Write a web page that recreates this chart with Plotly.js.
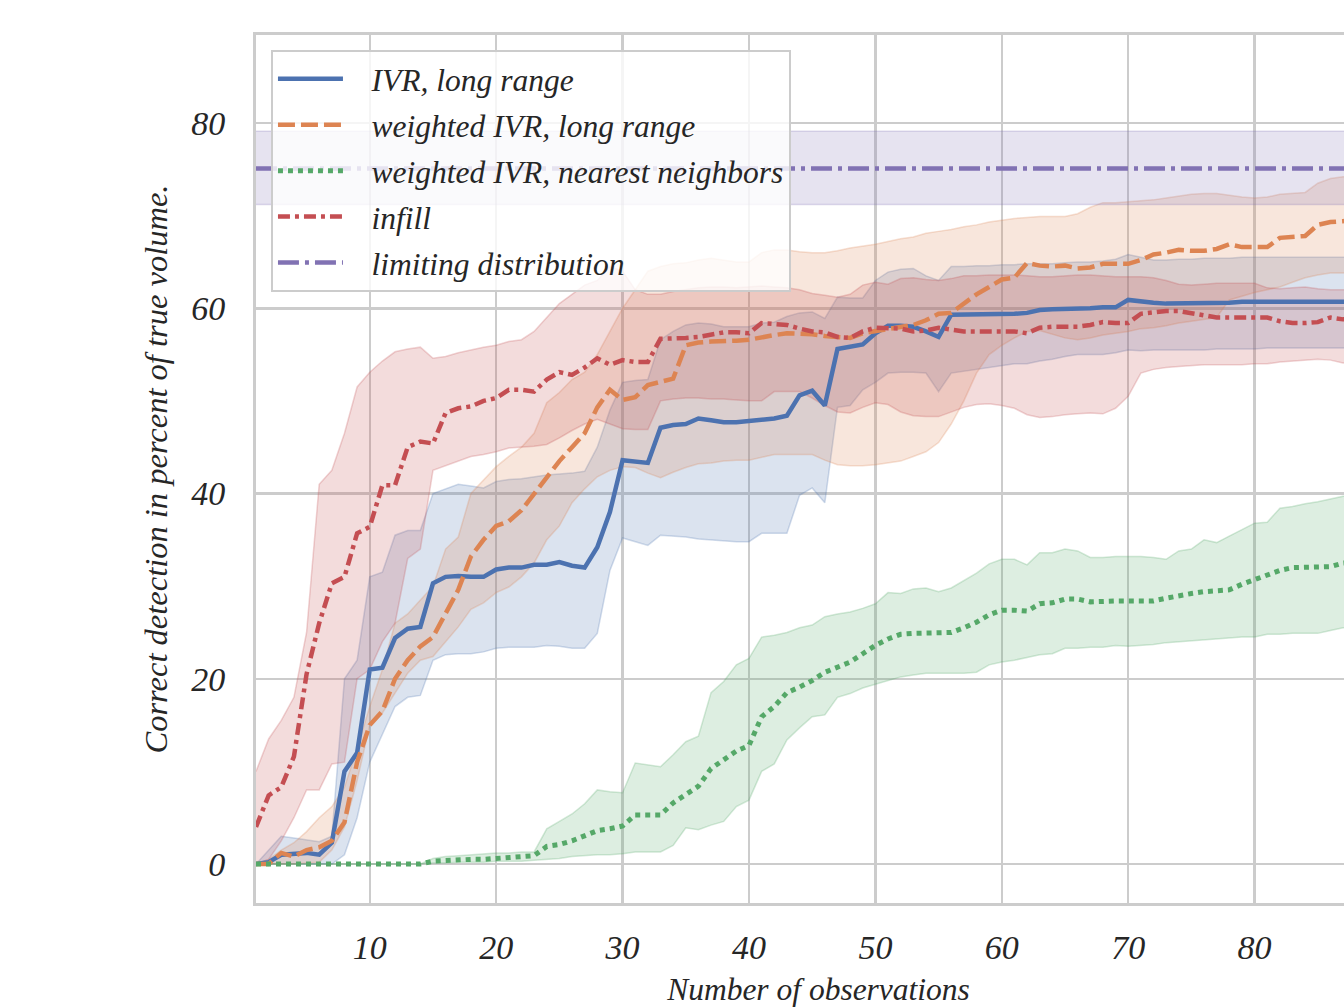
<!DOCTYPE html>
<html><head><meta charset="utf-8">
<script src="https://cdn.plot.ly/plotly-3.0.1.min.js"></script>
<style>html,body{margin:0;padding:0;overflow:hidden;background:#fff}#chart{width:1400px;height:1007px}</style>
</head><body><div id="chart"></div>
<script>
// number of observations 1..88
const observations = Array.from({length: 88}, (_, i) => i + 1);

const ivrMean = [0,0.2,1.0,1.1,1.2,1.0,2.3,10,12,21,
 21.2,24.4,25.4,25.6,30.3,31,31.1,31,31,31.8,
 32,32,32.3,32.3,32.6,32.2,32,34.2,38,43.6,
 43.5,43.3,47.1,47.4,47.5,48.1,47.9,47.7,47.7,47.8,
 47.9,48.1,48.4,50.6,51.1,49.5,55.6,55.9,56.1,57.3,
 58.1,58.1,58,57.5,56.9,59.3,59.3,59.3,59.3,59.3,
 59.4,59.5,59.8,59.9,59.9,60,60,60.1,60.1,60.9,
 60.7,60.6,60.5,60.5,60.5,60.6,60.6,60.6,60.7,60.7,
 60.7,60.7,60.7,60.7,60.7,60.7,60.7,60.7];
const ivrLow = [0,0,0,0,0,0,0,1,5,11,
 14,17,18,18.2,22,22.6,22.7,22.7,22.9,23.3,
 23.4,23.4,23.4,23.6,23.5,23.3,23.3,24.9,31.7,35.2,
 34.8,34.4,35.5,35.4,35.3,35.1,35,34.9,34.8,34.8,
 35.7,35.7,35.7,39.8,40.6,39,49.3,49.5,51.2,52,
 53,53.1,53.1,53,51,53,53.2,53.4,53.6,53.8,
 54,54,54.3,54.5,54.8,55,55,55,55.2,55.5,
 55.4,55.5,55.5,55.5,55.5,55.5,55.6,55.6,55.6,55.6,
 55.7,55.7,55.7,55.7,55.7,55.7,55.7,55.7];
const ivrHigh = [0,1.5,3,2.8,2.6,2.4,3,20,22,31,
 31.5,35.5,36,36,40,40.5,41,40.8,40.6,41.3,
 41.5,41.6,41.8,42,42.1,42.2,42.4,45,49,52,
 52.2,52.3,56.6,57.5,58.2,58.4,58.3,58,58,58,
 58.4,58.5,59.1,59.5,59.6,58.9,61.2,61.1,61.1,63,
 63.9,64.2,64.3,63.5,63,64.5,64.5,64.6,64.6,64.7,
 64.7,64.8,64.8,64.8,64.9,65,65,65.1,65.3,65.8,
 65.5,65.2,65.2,65.3,65.3,65.4,65.4,65.4,65.5,65.5,
 65.5,65.5,65.5,65.5,65.5,65.5,65.5,65.5];

const wivrMean = [0,0,1.2,0.8,1.5,1.8,2.5,4.5,11,15,
 16.5,20,22,23.5,24.5,27,29.6,33.2,35,36.5,
 37,38.2,40,41.7,43.5,45,46.5,49.3,51.2,50.1,
 50.4,51.7,52.1,52.4,56,56.3,56.4,56.4,56.5,56.6,
 56.9,57.1,57.3,57.3,57.2,57,56.9,56.8,57.3,57.5,
 57.8,58,58.2,58.7,59.4,59.5,60.5,61.5,62.3,63.1,
 63.3,64.9,64.6,64.5,64.6,64.3,64.4,64.8,64.8,64.8,
 65.2,65.8,66,66.3,66.2,66.2,66.4,66.9,66.6,66.6,
 66.6,67.6,67.7,67.8,69,69.3,69.4,69.5];
const wivrLow = [0,0,0,0,0.1,0.2,1.5,4,9,15,
 16.3,18.5,20.6,22,22.4,24,25.6,27.5,28.2,29.3,
 29.9,31,32.5,35,36.5,39,40.5,41.8,42.5,42.9,
 42.8,42.2,41.7,42.3,42.8,43.2,43.3,43.5,43.6,43.6,
 43.9,44.2,44.2,44.2,44.2,43.6,43.1,43,43,43.1,
 43.3,43.5,44,44.5,45.5,47.5,50,53,55,56,
 56.8,57.5,57.6,57.2,56.8,56.6,56.8,57.1,57.3,57.5,
 57.8,57.9,58.1,58.4,58.6,58.8,59,60.9,61.3,61.7,
 62,62.3,62.8,63.3,63.6,63.8,63.8,63.8];
const wivrHigh = [0,0.5,1.5,2.3,3.5,5,6.2,8.3,12.5,17,
 21,26,27,28.5,30,34,35.3,40,41.5,42.9,
 44,45,46.5,49.8,50.9,52.3,53.1,55,57.5,60,
 62,64,64.5,64.8,64.9,65.2,65.4,65.2,65,65,
 66,66.3,66.3,66.1,66,66,66.2,66.5,66.7,66.9,
 67.2,67.5,67.7,68.1,68.3,68.5,68.8,69,69.3,69.5,
 69.7,69.8,69.9,69.9,69.9,70.2,70.9,71.4,71.4,71.5,
 71.6,71.7,71.9,72.1,72.3,72.4,72.4,72.2,72,71.9,
 72,72.3,72.4,72.5,73.5,74,74.2,74.3];

const nnMean = [0,0,0,0,0,0,0,0,0,0,
 0,0,0,0,0.3,0.4,0.4,0.5,0.5,0.6,
 0.7,0.8,0.9,1.9,2.1,2.5,3.1,3.6,3.8,4.1,
 5.3,5.3,5.3,6.6,7.5,8.4,10.3,11.2,12.2,12.8,
 15.9,17,18.5,19.1,19.8,20.7,21.3,21.8,22.7,23.6,
 24.3,24.8,24.9,24.9,25,25,25.5,26.1,26.9,27.4,
 27.4,27.3,28.1,28.2,28.6,28.6,28.3,28.4,28.4,28.4,
 28.4,28.4,28.7,29,29.2,29.4,29.5,29.6,30.2,30.7,
 31.2,31.7,32,32,32,32.1,32.5,32.6];
const nnLow = [0,0,0,0,0,0,0,0,0,0,
 0,0,0,0,0.1,0.1,0.2,0.2,0.2,0.3,
 0.3,0.3,0.4,0.5,0.6,0.8,0.9,1,1,1.1,
 1.3,1.3,1.3,2,3.9,3.7,4.2,4.6,6.2,6.9,
 10,10.8,13.4,14.7,15.9,16.1,18,18.4,19,19.4,
 19.8,20.2,20.4,20.6,20.6,20.6,20.6,20.7,21.5,21.8,
 22,22.3,22.6,22.7,23.3,23.3,23.4,23.4,23.6,23.5,
 23.6,23.7,23.9,24,24.1,24.2,24.3,24.4,24.5,24.5,
 24.8,24.8,24.9,24.9,24.9,25.2,25.5,25.6];
const nnHigh = [0,0,0,0,0,0,0,0,0,0,
 0,0,0,0,0.6,0.8,0.9,1,1.1,1.2,
 1.2,1.3,1.3,3.8,4.6,5.4,6.5,8,7.8,7.7,
 10.9,10.7,10.5,11.8,13.2,13.8,18.5,19.7,21.5,22.2,
 24.5,24.7,25,25.5,25.8,26.7,27,27.2,27.6,28.1,
 29.3,29.2,29.7,29.8,29.4,29.8,30.6,31.4,32.4,32.9,
 32.9,32.3,33.6,33.6,34,33.8,33.1,33.1,33.2,33.2,
 33.2,33.1,32.9,33.8,34,35,34.7,35.4,36.1,36.8,
 36.9,38.4,38.6,38.9,39.1,39.4,39.7,39.9];

const infillMean = [4,7.4,8.3,11.6,20.5,26,30.3,31,35.7,36.4,
 40.9,40.9,45,45.6,45.4,48.7,49.2,49.4,50,50.3,
 51.2,51.2,51,52.3,53.1,52.8,53.6,54.6,53.9,54.4,
 54.2,54.2,56.7,56.7,56.8,56.9,57.2,57.4,57.4,57.3,
 58.4,58.3,58.2,57.8,57.5,57.4,56.9,56.8,57.5,57.9,
 57.9,57.8,57.5,57.6,57.9,57.7,57.5,57.5,57.5,57.6,
 57.5,57.3,57.9,58,58,58,58.2,58.5,58.4,58.4,
 59.4,59.6,59.7,59.7,59.5,59.2,59,59,59,59,
 59,58.6,58.4,58.4,58.5,59,58.8,58.8];
const infillLow = [0,0.5,2.5,5,8,8,10.8,11,20,21,
 24,26,33,34,42.5,43,43.5,44,44.2,44.5,
 44.9,45,45.1,45.3,46,46.8,47.5,48,47.5,47,
 46.9,46.9,50,50.2,50.3,50.3,50.2,50.2,50.1,50,
 50,51,51,51,50.3,49.5,48.8,48.7,49.3,49.8,
 49.6,48.8,48.4,48.3,48.3,48.8,49.3,49.6,49.7,49.5,
 49.2,48.5,48.2,48.3,48.5,48.6,48.7,48.6,49.2,50.5,
 53,53.4,53.6,53.7,53.8,53.9,53.9,53.9,53.9,54,
 54,54.2,54.3,54.4,54.5,54.4,54.1,54.1];
const infillHigh = [10,13.5,15.5,18,25,41,42.5,46.5,51.5,53.1,
 54.3,55.3,55.6,55.8,54.6,54.8,55.2,55.5,55.8,56,
 56.4,56.6,57.5,59,60.5,61.5,62.5,63,64.5,64,
 62,61.5,61.5,61.8,62,62.2,62.3,62.3,62.2,62.3,
 62.4,62.3,62.2,62,61.6,61.4,61.2,61.5,62.5,62.8,
 62.6,63.2,63.3,63.1,63,63.2,63.5,63.5,63.6,63.6,
 63.6,63.5,63.4,63.4,63.5,63.6,63.6,63.5,63.4,63.4,
 63.4,63.3,63,62.6,62.5,62.6,62.7,62.7,62.7,62.7,
 62.2,62.1,62.2,62.3,62.1,62,62,62];

// limiting distribution (constant level with its band)
const limitMean = 75.1, limitLow = 71.2, limitHigh = 79.1;
const limitX = [1, 90];

const seriesNames = ['IVR, long range', 'weighted IVR, long range', 'weighted IVR, nearest neighbors', 'infill', 'limiting distribution'];
const colors = ['76,114,176', '221,132,82', '85,168,104', '196,78,82', '129,114,179'];
const dashes = ['solid', '17px,6px', '5px,5px', '12px,5px,4px,5px', '21px,6px,4px,6px'];

const series = [
  {x: observations, m: ivrMean, lo: ivrLow, hi: ivrHigh},
  {x: observations, m: wivrMean, lo: wivrLow, hi: wivrHigh},
  {x: observations, m: nnMean, lo: nnLow, hi: nnHigh},
  {x: observations, m: infillMean, lo: infillLow, hi: infillHigh},
  {x: limitX, m: limitX.map(() => limitMean), lo: limitX.map(() => limitLow), hi: limitX.map(() => limitHigh)}
];

const traces = [];
series.forEach((s, i) => {
  traces.push({x: s.x, y: s.lo, type: 'scatter', mode: 'lines', showlegend: false, hoverinfo: 'skip',
    line: {color: `rgba(${colors[i]},0.25)`, width: 1.5}});
  traces.push({x: s.x, y: s.hi, type: 'scatter', mode: 'lines', showlegend: false, hoverinfo: 'skip',
    fill: 'tonexty', fillcolor: `rgba(${colors[i]},0.2)`,
    line: {color: `rgba(${colors[i]},0.25)`, width: 1.5}});
});
const pad = '\u00a0\u00a0\u00a0';
series.forEach((s, i) => {
  traces.push({x: s.x, y: s.m, type: 'scatter', mode: 'lines', name: pad + seriesNames[i],
    legendgroup: 'g' + i,
    line: {color: `rgb(${colors[i]})`, width: i === 2 ? 5 : 4.5, dash: dashes[i]}});
});

const fontBase = {family: 'Liberation Serif, Times New Roman, serif', style: 'italic', color: '#262626'};

const layout = {
  width: 1400, height: 1007,
  margin: {l: 256, r: 19, t: 35, b: 104},
  paper_bgcolor: '#fff', plot_bgcolor: '#fff',
  showlegend: true,
  legend: {x: 0.0133, y: 0.983, xanchor: 'left', yanchor: 'top',
    bgcolor: 'rgba(255,255,255,0.8)', bordercolor: '#cccccc', borderwidth: 2,
    font: Object.assign({}, fontBase, {size: 31.5}), itemwidth: 65, tracegroupgap: 2},
  xaxis: {range: [1, 90], tickvals: [10,20,30,40,50,60,70,80], ticktext: ['10','20','30','40','50','60','70','80'],
    showgrid: true, gridcolor: '#cccccc', gridwidth: 2.5, zeroline: false,
    showline: true, mirror: true, linecolor: '#cccccc', linewidth: 3, ticks: '',
    ticklabelstandoff: 12, automargin: false,
    tickfont: Object.assign({}, fontBase, {size: 34}),
    title: {text: 'Number of observations', font: Object.assign({}, fontBase, {size: 31.5}), standoff: 26}},
  yaxis: {range: [-4.21, 89.5], tickvals: [0,20,40,60,80], ticktext: ['0','20','40','60','80'],
    showgrid: true, gridcolor: '#cccccc', gridwidth: 2.5, zeroline: false,
    showline: true, mirror: true, linecolor: '#cccccc', linewidth: 3, ticks: '',
    ticklabelstandoff: 21, automargin: false,
    tickfont: Object.assign({}, fontBase, {size: 34}),
    title: {text: 'Correct detection in percent of true volume.', font: Object.assign({}, fontBase, {size: 32.5}), standoff: 14}}
};

Plotly.newPlot('chart', traces, layout, {displayModeBar: false, staticPlot: true});
</script></body></html>
